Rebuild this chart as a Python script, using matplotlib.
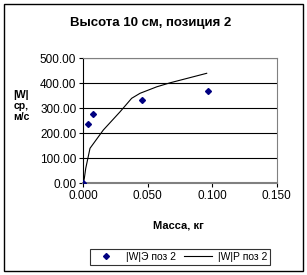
import matplotlib

matplotlib.use("Agg")
import matplotlib.pyplot as plt
from matplotlib.patches import Rectangle

# --- Data -------------------------------------------------------------------
mass_exp = [0.0, 0.0034, 0.0073, 0.0458, 0.0965]
w_exp = [0.0, 236.0, 278.0, 333.0, 369.0]

mass_calc = [0.0, 0.0008, 0.0019, 0.0052, 0.0155, 0.0285, 0.0375, 0.044,
             0.057, 0.0673, 0.0957]
w_calc = [0.0, 20.0, 60.0, 140.0, 213.0, 286.0, 340.0, 360.0, 386.0, 402.0, 440.0]

x_ticks = [0.0, 0.05, 0.10, 0.15]
y_ticks = [0, 100, 200, 300, 400, 500]

plt.rcParams["font.family"] = ["Liberation Sans", "DejaVu Sans"]

W, H = 307, 275
fig = plt.figure(figsize=(W / 100, H / 100), dpi=100)
ax = fig.add_axes([83.3 / W, 1 - 183.3 / H, (276.7 - 83.3) / W, (183.3 - 58.3) / H])

ax.plot(mass_calc, w_calc, color="black", lw=0.8, label="|W|Р поз 2", zorder=3)
ax.plot(mass_exp, w_exp, ls="none", marker="D", ms=3, color="#000080",
        label="|W|Э поз 2", zorder=4)

ax.set_xlim(0, 0.15)
ax.set_ylim(0, 500)
ax.set_xticks(x_ticks)
ax.set_xticklabels([f"{v:.3f}" for v in x_ticks], fontsize=8.5)
ax.set_yticks(y_ticks)
ax.set_yticklabels([f"{v:.2f}" for v in y_ticks], fontsize=8.5)
ax.tick_params(direction="out", length=3, width=0.8, color="black", pad=2)
ax.yaxis.grid(True, color="black", lw=0.8)
ax.set_axisbelow(True)
for side in ("top", "right"):
    ax.spines[side].set_color("#808080")
ax.spines["left"].set_color("black")
ax.spines["bottom"].set_color("#808080")
ax.spines["bottom"].set_linewidth(1.5)

fig.text(151 / W, 1 - 23 / H, "Высота 10 см, позиция 2", ha="center", va="center",
         fontsize=9.5, fontweight="bold")
fig.text(21 / W, 1 - 106 / H, "|W|\nср,\nм/с", ha="center", va="center",
         fontsize=7.5, fontweight="bold", linespacing=1.15)
fig.text(178 / W, 1 - 225 / H, "Масса, кг", ha="center", va="center",
         fontsize=8, fontweight="bold")

handles, labels = ax.get_legend_handles_labels()
leg = fig.legend(handles[::-1], labels[::-1], loc="center",
                 bbox_to_anchor=(180 / W, 1 - 257 / H), ncol=2, fontsize=7.5,
                 frameon=True, fancybox=False, handlelength=2.6,
                 columnspacing=0.8, handletextpad=0.6, borderpad=0.3)
leg.get_frame().set_edgecolor("black")
leg.get_frame().set_linewidth(0.8)

fig.patches.append(Rectangle((4 / W, 4 / H), 299 / W, 267 / H, transform=fig.transFigure,
                             fill=False, edgecolor="black", lw=1.0))

fig.savefig("out.png", dpi=100)
